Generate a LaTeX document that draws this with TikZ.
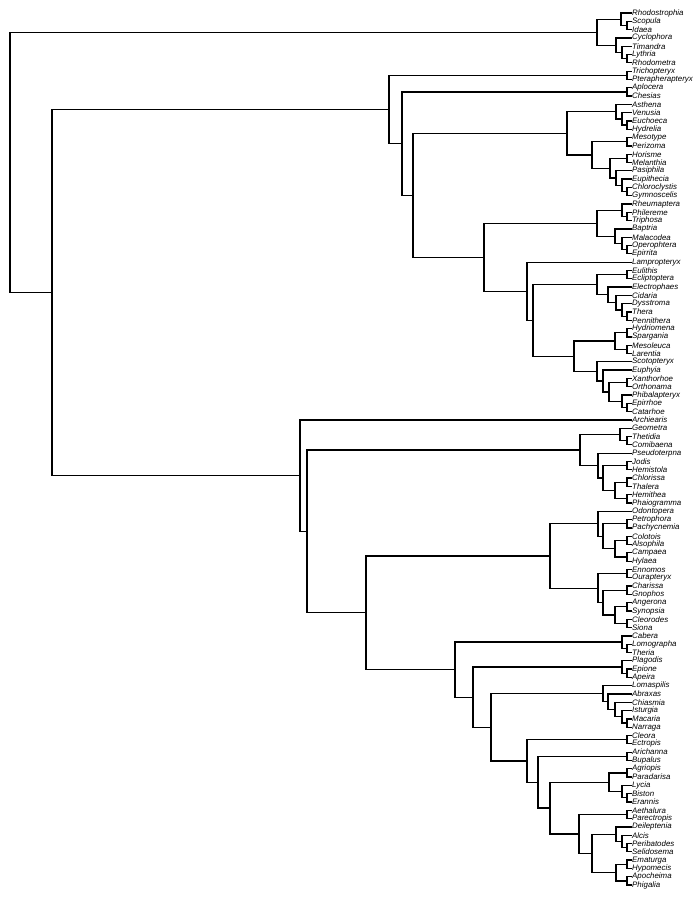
\documentclass[tikz,border=0pt]{standalone}
\usepackage{fontspec}
\setmainfont{Liberation Sans}
\usetikzlibrary{calc}
\tikzset{branch/.style={line width=1.25pt, line cap=rect},
         leaf/.style={anchor=west, inner sep=1pt, font=\fontsize{7.9}{9}\selectfont\itshape}}
\newcommand\clade[4]{%
  \path let \p1=(#3), \p2=(#4) in coordinate (#1) at (#2pt,{0.5*\y1+0.5*\y2});
  \draw[branch] (#1) |- (#3);
  \draw[branch] (#1) |- (#4);}
\begin{document}
\begin{tikzpicture}[x=1pt, y=-1pt]
      \useasboundingbox[fill=white] (0,0) rectangle (699,900);
      % leaves
      \foreach \lf [count=\i] in {Rhodostrophia,Scopula,Idaea,Cyclophora,Timandra,Lythria,Rhodometra,
        Trichopteryx,Pterapherapteryx,Aplocera,Chesias,Asthena,Venusia,Euchoeca,Hydrelia,Mesotype,
        Perizoma,Horisme,Melanthia,Pasiphila,Eupithecia,Chloroclystis,Gymnoscelis,Rheumaptera,
        Philereme,Triphosa,Baptria,Malacodea,Operophtera,Epirrita,Lampropteryx,Eulithis,Ecliptoptera,
        Electrophaes,Cidaria,Dysstroma,Thera,Pennithera,Hydriomena,Spargania,Mesoleuca,Larentia,
        Scotopteryx,Euphyia,Xanthorhoe,Orthonama,Phibalapteryx,Epirrhoe,Catarhoe,Archiearis,Geometra,
        Thetidia,Comibaena,Pseudoterpna,Jodis,Hemistola,Chlorissa,Thalera,Hemithea,Phaiogramma,
        Odontopera,Petrophora,Pachycnemia,Colotois,Alsophila,Campaea,Hylaea,Ennomos,Ourapteryx,
        Charissa,Gnophos,Angerona,Synopsia,Cleorodes,Siona,Cabera,Lomographa,Theria,Plagodis,Epione,
        Apeira,Lomaspilis,Abraxas,Chiasmia,Isturgia,Macaria,Narraga,Cleora,Ectropis,Arichanna,Bupalus,
        Agriopis,Paradarisa,Lycia,Biston,Erannis,Aethalura,Parectropis,Deileptenia,Alcis,Peribatodes,
        Selidosema,Ematurga,Hypomecis,Apocheima,Phigalia}
        \node[leaf] (\lf) at (631,{13+(\i-1)*8.305}) {\lf};
      % Sterrhinae
      \clade{scid}{627}{Scopula}{Idaea}
      \clade{rhod}{621}{Rhodostrophia}{scid}
      \clade{lyrh}{627}{Lythria}{Rhodometra}
      \clade{tily}{622}{Timandra}{lyrh}
      \clade{cycl}{616}{Cyclophora}{tily}
      \clade{sterr}{597}{rhod}{cycl}
      % Larentiinae
      \clade{trpt}{627}{Trichopteryx}{Pterapherapteryx}
      \clade{apch}{627}{Aplocera}{Chesias}
      \clade{euhy}{627}{Euchoeca}{Hydrelia}
      \clade{veeu}{622}{Venusia}{euhy}
      \clade{asth}{616}{Asthena}{veeu}
      \clade{mepe}{627}{Mesotype}{Perizoma}
      \clade{home}{627}{Horisme}{Melanthia}
      \clade{chgy}{627}{Chloroclystis}{Gymnoscelis}
      \clade{eupi}{622}{Eupithecia}{chgy}
      \clade{pasi}{616}{Pasiphila}{eupi}
      \clade{hopa}{610}{home}{pasi}
      \clade{meso}{592}{mepe}{hopa}
      \clade{asme}{567}{asth}{meso}
      \clade{phtr}{627}{Philereme}{Triphosa}
      \clade{rheu}{622}{Rheumaptera}{phtr}
      \clade{opep}{627}{Operophtera}{Epirrita}
      \clade{mala}{622}{Malacodea}{opep}
      \clade{bapt}{615}{Baptria}{mala}
      \clade{rhba}{597}{rheu}{bapt}
      \clade{euec}{627}{Eulithis}{Ecliptoptera}
      \clade{thpe}{627}{Thera}{Pennithera}
      \clade{dyss}{622}{Dysstroma}{thpe}
      \clade{cida}{616}{Cidaria}{dyss}
      \clade{elec}{608}{Electrophaes}{cida}
      \clade{euli}{597}{euec}{elec}
      \clade{hysp}{627}{Hydriomena}{Spargania}
      \clade{mela}{627}{Mesoleuca}{Larentia}
      \clade{hydr}{615}{hysp}{mela}
      \clade{xaor}{627}{Xanthorhoe}{Orthonama}
      \clade{epca}{627}{Epirrhoe}{Catarhoe}
      \clade{phib}{622}{Phibalapteryx}{epca}
      \clade{xaph}{609}{xaor}{phib}
      \clade{euph}{603}{Euphyia}{xaph}
      \clade{scot}{597}{Scotopteryx}{euph}
      \clade{hysc}{574}{hydr}{scot}
      \clade{eulh}{533}{euli}{hysc}
      \clade{lamp}{527}{Lampropteryx}{eulh}
      \clade{rhla}{484}{rhba}{lamp}
      \clade{core}{413}{asme}{rhla}
      \clade{aplo}{402}{apch}{core}
      \clade{larent}{389}{trpt}{aplo}
      % Geometrinae
      \clade{thco}{627}{Thetidia}{Comibaena}
      \clade{geom}{620}{Geometra}{thco}
      \clade{johe}{627}{Jodis}{Hemistola}
      \clade{chth}{627}{Chlorissa}{Thalera}
      \clade{heph}{627}{Hemithea}{Phaiogramma}
      \clade{chhe}{615}{chth}{heph}
      \clade{jodi}{603}{johe}{chhe}
      \clade{pseu}{598}{Pseudoterpna}{jodi}
      \clade{geps}{580}{geom}{pseu}
      % Ennominae
      \clade{pepa}{627}{Petrophora}{Pachycnemia}
      \clade{coal}{627}{Colotois}{Alsophila}
      \clade{cahy}{627}{Campaea}{Hylaea}
      \clade{coca}{615}{coal}{cahy}
      \clade{petr}{603}{pepa}{coca}
      \clade{odon}{598}{Odontopera}{petr}
      \clade{enou}{627}{Ennomos}{Ourapteryx}
      \clade{chgn}{627}{Charissa}{Gnophos}
      \clade{ansy}{627}{Angerona}{Synopsia}
      \clade{clsi}{627}{Cleorodes}{Siona}
      \clade{ancl}{615}{ansy}{clsi}
      \clade{char}{603}{chgn}{ancl}
      \clade{enno}{598}{enou}{char}
      \clade{oden}{550}{odon}{enno}
      \clade{loth}{627}{Lomographa}{Theria}
      \clade{cabe}{622}{Cabera}{loth}
      \clade{epap}{627}{Epione}{Apeira}
      \clade{plag}{622}{Plagodis}{epap}
      \clade{mana}{627}{Macaria}{Narraga}
      \clade{istu}{622}{Isturgia}{mana}
      \clade{chia}{615}{Chiasmia}{istu}
      \clade{abra}{608}{Abraxas}{chia}
      \clade{loma}{603}{Lomaspilis}{abra}
      \clade{clec}{627}{Cleora}{Ectropis}
      \clade{arbu}{627}{Arichanna}{Bupalus}
      \clade{agpa}{627}{Agriopis}{Paradarisa}
      \clade{bier}{627}{Biston}{Erannis}
      \clade{lyci}{622}{Lycia}{bier}
      \clade{agly}{609}{agpa}{lyci}
      \clade{aepa}{627}{Aethalura}{Parectropis}
      \clade{pese}{627}{Peribatodes}{Selidosema}
      \clade{alci}{622}{Alcis}{pese}
      \clade{deil}{616}{Deileptenia}{alci}
      \clade{emhy}{627}{Ematurga}{Hypomecis}
      \clade{apph}{627}{Apocheima}{Phigalia}
      \clade{emap}{616}{emhy}{apph}
      \clade{deem}{592}{deil}{emap}
      \clade{aeth}{579}{aepa}{deem}
      \clade{agae}{550}{agly}{aeth}
      \clade{arag}{538}{arbu}{agae}
      \clade{clar}{527}{clec}{arag}
      \clade{loar}{491}{loma}{clar}
      \clade{plar}{473}{plag}{loar}
      \clade{cabr}{455}{cabe}{plar}
      \clade{ennom}{366}{oden}{cabr}
      \clade{geen}{307}{geps}{ennom}
      \clade{arch}{300}{Archiearis}{geen}
      % backbone
      \clade{lamain}{52}{larent}{arch}
      \clade{root}{10}{sterr}{lamain}
\end{tikzpicture}
\end{document}
